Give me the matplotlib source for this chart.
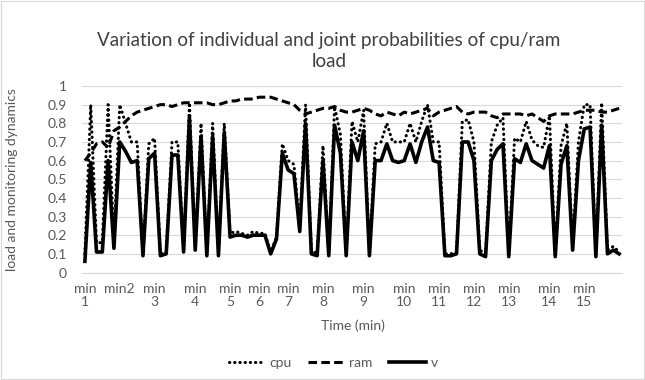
import numpy as np
import matplotlib
matplotlib.use("Agg")
from matplotlib import pyplot as plt

plt.rcParams.update({"font.family": ["Lato", "DejaVu Sans"], "font.size": 10})

# values (one sample per category)
cpu = [0.10, 0.90, 0.16, 0.16, 0.90, 0.17, 0.90, 0.80, 0.70, 0.70,
       0.10, 0.69, 0.72, 0.10, 0.11, 0.70, 0.70, 0.12, 0.91, 0.13,
       0.80, 0.10, 0.80, 0.10, 0.80, 0.21, 0.22, 0.21, 0.20, 0.22,
       0.21, 0.21, 0.11, 0.19, 0.69, 0.60, 0.58, 0.24, 0.90, 0.12,
       0.10, 0.68, 0.10, 0.89, 0.74, 0.10, 0.81, 0.70, 0.87, 0.10,
       0.69, 0.70, 0.80, 0.70, 0.70, 0.70, 0.80, 0.70, 0.81, 0.90,
       0.70, 0.70, 0.10, 0.10, 0.11, 0.81, 0.82, 0.70, 0.12, 0.10,
       0.70, 0.79, 0.83, 0.10, 0.72, 0.70, 0.81, 0.71, 0.68, 0.67,
       0.84, 0.10, 0.68, 0.80, 0.14, 0.70, 0.90, 0.90, 0.10, 0.91,
       0.12, 0.14, 0.11]
ram = [0.60, 0.64, 0.69, 0.70, 0.67, 0.76, 0.78, 0.81, 0.84, 0.86,
       0.87, 0.88, 0.89, 0.90, 0.90, 0.89, 0.90, 0.91, 0.91, 0.91,
       0.91, 0.91, 0.90, 0.90, 0.91, 0.92, 0.92, 0.93, 0.93, 0.93,
       0.94, 0.94, 0.94, 0.93, 0.92, 0.91, 0.90, 0.87, 0.85, 0.86,
       0.87, 0.88, 0.88, 0.89, 0.87, 0.86, 0.86, 0.87, 0.88, 0.87,
       0.85, 0.84, 0.86, 0.85, 0.84, 0.86, 0.85, 0.86, 0.87, 0.88,
       0.84, 0.86, 0.87, 0.88, 0.89, 0.86, 0.85, 0.86, 0.86, 0.86,
       0.84, 0.83, 0.85, 0.85, 0.85, 0.85, 0.84, 0.85, 0.83, 0.81,
       0.84, 0.85, 0.85, 0.85, 0.85, 0.86, 0.87, 0.87, 0.87, 0.86,
       0.86, 0.87, 0.88]
v = [0.06, 0.59, 0.11, 0.11, 0.60, 0.13, 0.70, 0.65, 0.59, 0.60,
     0.09, 0.61, 0.64, 0.09, 0.10, 0.63, 0.63, 0.11, 0.83, 0.12,
     0.73, 0.09, 0.73, 0.09, 0.75, 0.19, 0.20, 0.20, 0.19, 0.20,
     0.20, 0.20, 0.10, 0.18, 0.64, 0.55, 0.53, 0.22, 0.80, 0.10,
     0.09, 0.60, 0.09, 0.79, 0.64, 0.09, 0.70, 0.60, 0.76, 0.09,
     0.60, 0.60, 0.69, 0.60, 0.59, 0.60, 0.69, 0.59, 0.70, 0.78,
     0.60, 0.59, 0.09, 0.09, 0.10, 0.70, 0.70, 0.60, 0.10, 0.085,
     0.60, 0.66, 0.69, 0.085, 0.61, 0.59, 0.69, 0.60, 0.58, 0.56,
     0.68, 0.085, 0.58, 0.68, 0.12, 0.60, 0.77, 0.78, 0.085, 0.79,
     0.10, 0.12, 0.10]

# category positions that carry a label
label_pos = [0, 6, 12, 19, 25, 30, 35, 41, 48, 55, 61, 67, 73, 80, 86]
label_txt = ["min\n1", "min2", "min\n3", "min\n4", "min\n5", "min\n6", "min\n7",
             "min\n8", "min\n9", "min\n10", "min\n11", "min\n12", "min\n13",
             "min\n14", "min\n15"]

x = np.arange(len(v))

fig = plt.figure(figsize=(6.45, 3.8), dpi=100)
ax = fig.add_axes([82 / 645, 1 - 272.5 / 380, 540 / 645, 186.5 / 380])

ax.plot(x, cpu, color="black", lw=2.2, linestyle=(0, (0.1, 1.6)),
        dash_capstyle="round", label="cpu")
ax.plot(x, ram, color="black", lw=2.2, linestyle=(0, (2.8, 1.4)), label="ram")
ax.plot(x, v, color="black", lw=2.6, label="v")

ax.set_xlim(-0.5, len(v) - 0.5)
ax.set_ylim(0, 1)
ax.set_yticks(np.arange(0, 1.01, 0.1))
ax.set_yticklabels(["0"] + [f"{t:.1f}" for t in np.arange(0.1, 0.95, 0.1)] + ["1"])
ax.set_xticks(label_pos)
ax.set_xticklabels(label_txt, linespacing=1.15)
ax.tick_params(axis="both", length=0, colors="#595959", labelsize=10)
ax.tick_params(axis="y", pad=11)
ax.tick_params(axis="x", pad=7.5)
ax.grid(axis="y", color="#d9d9d9", lw=0.8)
ax.set_axisbelow(True)
for s in ["top", "right", "left"]:
    ax.spines[s].set_visible(False)
ax.spines["bottom"].set_color("#d9d9d9")

fig.text(329 / 645, 1 - 51 / 380,
         "Variation of individual and joint probabilities of cpu/ram\nload",
         ha="center", va="center", fontsize=13.6, color="#404040", linespacing=1.25)
fig.text(12 / 645, 1 - 180 / 380, "load and monitoring dynamics", rotation=90,
         ha="center", va="center", fontsize=10, color="#595959")
fig.text(353 / 645, 1 - 326 / 380, "Time (min)", ha="center", va="center",
         fontsize=10, color="#595959")

fig.legend(loc="center", bbox_to_anchor=(333 / 645, 1 - 363 / 380), ncol=3,
           frameon=False, handlelength=2.6, handletextpad=0.35, columnspacing=1.2,
           labelcolor="#595959", fontsize=10)

fig.patches.append(plt.Rectangle((0.002, 0.003), 0.996, 0.994, transform=fig.transFigure,
                                 fill=False, edgecolor="#d9d9d9", lw=0.8))

fig.savefig("out.png", dpi=100)
